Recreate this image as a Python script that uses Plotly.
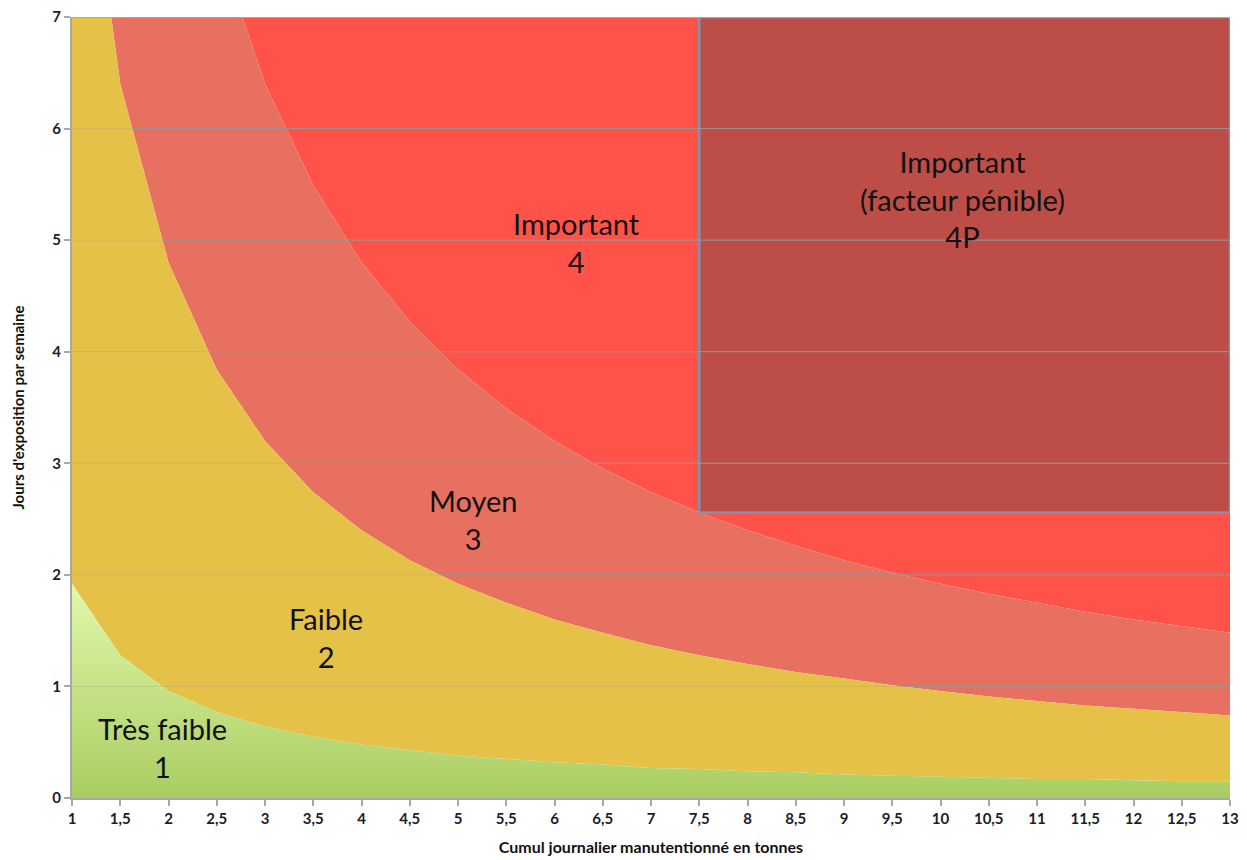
import plotly.graph_objects as go

# ---- data ----
x_tonnes = [1, 1.5, 2, 2.5, 3, 3.5, 4, 4.5, 5, 5.5, 6, 6.5, 7, 7.5, 8, 8.5, 9,
            9.5, 10, 10.5, 11, 11.5, 12, 12.5, 13]
limite_tres_faible = [1.92, 1.28, 0.96, 0.77, 0.64, 0.55, 0.48, 0.43, 0.38, 0.35,
                      0.32, 0.30, 0.27, 0.26, 0.24, 0.23, 0.21, 0.20, 0.19, 0.18,
                      0.17, 0.17, 0.16, 0.15, 0.15]
limite_faible = [9.6, 6.4, 4.8, 3.84, 3.2, 2.74, 2.4, 2.13, 1.92, 1.75, 1.6, 1.48,
                 1.37, 1.28, 1.2, 1.13, 1.07, 1.01, 0.96, 0.91, 0.87, 0.83, 0.8,
                 0.77, 0.74]
limite_moyen = [19.2, 12.8, 9.6, 7.68, 6.4, 5.49, 4.8, 4.27, 3.84, 3.49, 3.2, 2.95,
                2.74, 2.56, 2.4, 2.26, 2.13, 2.02, 1.92, 1.83, 1.75, 1.67, 1.6,
                1.54, 1.48]
y_max = 7
zone_4p_x = [7.5, 13]
zone_4p_y = [2.56, 7]
y_ticks = [0, 1, 2, 3, 4, 5, 6, 7]

labels = ["Très faible<br>1", "Faible<br>2", "Moyen<br>3", "Important<br>4",
          "Important<br>(facteur pénible)<br>4P"]
label_x = [1.94, 3.63, 5.16, 6.23, 10.23]
label_y = [0.45, 1.44, 2.5, 4.98, 5.37]

# colours
c_green_top = "#e0f8ab"
c_green_bot = "#aacd62"
c_yellow = "#e6c147"
c_salmon = "#e87060"
c_red = "#ff534a"
c_dark = "#bc4e47"
c_border = "#8590ad"
c_grid = "#9c9494"


def band(lower, upper):
    xs = list(x_tonnes) + list(reversed(x_tonnes))
    ys = list(lower) + list(reversed(upper))
    return xs, ys


def grid_xy(levels):
    gx, gy = [], []
    for v in levels:
        gx += [x_tonnes[0], x_tonnes[-1], None]
        gy += [v, v, None]
    return gx, gy


fig = go.Figure()
common = dict(mode="lines", line=dict(width=0), fill="toself",
              hoverinfo="skip", showlegend=False)

# Important (red)
xs, ys = band(limite_moyen, [y_max] * len(x_tonnes))
fig.add_trace(go.Scatter(x=xs, y=ys, fillcolor=c_red, **common))
# Moyen (salmon)
xs, ys = band(limite_faible, limite_moyen)
fig.add_trace(go.Scatter(x=xs, y=ys, fillcolor=c_salmon, **common))
# 4P rectangle
fig.add_trace(go.Scatter(
    x=[zone_4p_x[0], zone_4p_x[1], zone_4p_x[1], zone_4p_x[0], zone_4p_x[0]],
    y=[zone_4p_y[0], zone_4p_y[0], zone_4p_y[1], zone_4p_y[1], zone_4p_y[0]],
    mode="lines", fill="toself", fillcolor=c_dark,
    line=dict(color=c_border, width=2.5), hoverinfo="skip", showlegend=False))
# strong grid lines (visible on reds)
gx, gy = grid_xy(y_ticks[1:-1])
fig.add_trace(go.Scatter(x=gx, y=gy, mode="lines", line=dict(color=c_grid, width=1),
                         hoverinfo="skip", showlegend=False))
# Faible (yellow)
xs, ys = band(limite_tres_faible, limite_faible)
fig.add_trace(go.Scatter(x=xs, y=ys, fillcolor=c_yellow, **common))
# Très faible (green gradient)
xs, ys = band([0] * len(x_tonnes), limite_tres_faible)
fig.add_trace(go.Scatter(
    x=xs, y=ys, mode="lines", line=dict(width=0), fill="toself",
    fillgradient=dict(type="vertical",
                      colorscale=[[0, c_green_bot], [1, c_green_top]]),
    hoverinfo="skip", showlegend=False))
# faint grid lines over the yellow / green zones
fig.add_trace(go.Scatter(x=gx, y=gy, mode="lines",
                         line=dict(color="rgba(150,150,150,0.25)", width=1),
                         hoverinfo="skip", showlegend=False))
# top border line
tx, ty = grid_xy([y_ticks[-1]])
fig.add_trace(go.Scatter(x=tx, y=ty, mode="lines", line=dict(color="#a8a8a8", width=2),
                         hoverinfo="skip", showlegend=False))

for t, lx, ly in zip(labels, label_x, label_y):
    fig.add_annotation(x=lx, y=ly, text=t, showarrow=False,
                       font=dict(family="Lato", size=29, color="#111111"),
                       align="center")

tick_font = dict(family="Lato", size=15, color="#1c1c2a", weight="bold")
fig.update_layout(
    width=1247, height=860,
    margin=dict(l=64, r=25, t=9, b=70, autoexpand=False),
    paper_bgcolor="white", plot_bgcolor="white",
    separators=", ",
    xaxis=dict(range=[1, 13], tickvals=x_tonnes, showgrid=False, zeroline=False,
               automargin=False, ticklabeloverflow="allow",
               showline=True, linecolor="#a8a8a8", linewidth=2,
               ticks="outside", ticklen=6, tickcolor="#a8a8a8", tickwidth=2,
               tickfont=tick_font,
               title=dict(text="Cumul journalier manutentionné en tonnes",
                          font=dict(family="Lato", size=16, color="#111111",
                                    weight="bold"),
                          standoff=16)),
    yaxis=dict(range=[0, 7], tickvals=y_ticks, showgrid=False, zeroline=False,
               automargin=False, ticklabeloverflow="allow",
               showline=True, linecolor="#a8a8a8", linewidth=2,
               ticks="outside", ticklen=6, tickcolor="#a8a8a8", tickwidth=2,
               tickfont=tick_font,
               title=dict(text="Jours d'exposition par semaine",
                          font=dict(family="Lato", size=15, color="#111111",
                                    weight="bold"),
                          standoff=24)),
)

fig.write_html("out.html")
